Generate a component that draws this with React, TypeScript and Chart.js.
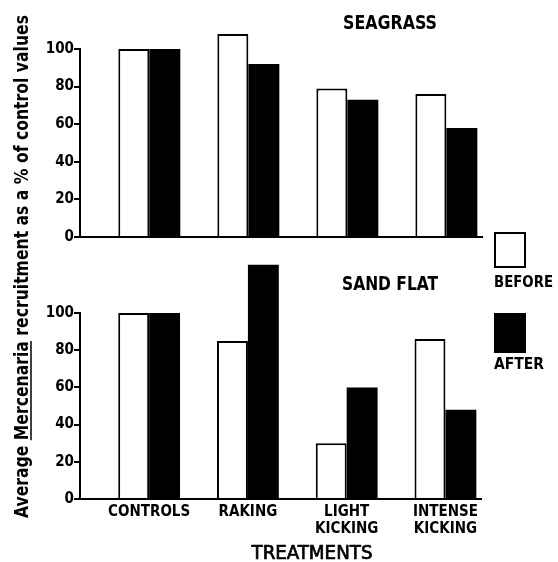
import React, { useEffect, useRef } from 'react';
import { Chart, registerables } from 'chart.js';

Chart.register(...registerables);

// ---------- data ----------
const categories: (string | string[])[] = ['CONTROLS', 'RAKING', ['LIGHT', 'KICKING'], ['INTENSE', 'KICKING']];
const seagrassBefore = [100, 108, 79, 76];
const seagrassAfter = [100, 92, 73, 58];
const sandFlatBefore = [100, 85, 30, 86];
const sandFlatAfter = [100, 126, 60, 48];
const yTickValues = [0, 20, 40, 60, 80, 100];
const seriesLabels = ['BEFORE', 'AFTER'];
const panelTitles = ['SEAGRASS', 'SAND FLAT'];
const xAxisTitle = 'TREATMENTS';
const yTitleParts = ['Average ', 'Mercenaria', ' recruitment as a % of control values'];

const FAM = "'DejaVu Sans Condensed', 'DejaVu Sans', 'Liberation Sans', sans-serif";
const W = 558;
const H = 562;

// draw text squeezed horizontally to a given width (old lettering is narrow)
function squeezedText(
  ctx: CanvasRenderingContext2D,
  text: string,
  x: number,
  y: number,
  font: string,
  width: number,
  align: 'left' | 'center',
  strokeW = 0,
) {
  ctx.save();
  ctx.font = font;
  ctx.textBaseline = 'alphabetic';
  ctx.textAlign = align;
  const m = ctx.measureText(text).width;
  ctx.translate(x, y);
  ctx.scale(width / m, 1);
  ctx.fillText(text, 0, 0);
  if (strokeW > 0) {
    ctx.lineWidth = strokeW;
    ctx.strokeStyle = '#000';
    ctx.strokeText(text, 0, 0);
  }
  ctx.restore();
}

const annotations = {
  id: 'annotations',
  afterDraw(chart: any) {
    const ctx = chart.ctx as CanvasRenderingContext2D;
    ctx.save();
    ctx.fillStyle = '#000';
    ctx.strokeStyle = '#000';
    // panel titles
    squeezedText(ctx, panelTitles[0], 390, 29, `bold 19.5px ${FAM}`, 94, 'center');
    squeezedText(ctx, panelTitles[1], 390, 290, `bold 19.5px ${FAM}`, 96, 'center');
    // x title
    squeezedText(ctx, xAxisTitle, 312, 559, `19.5px ${FAM}`, 121, 'center', 0.7);
    // legend
    const ds = chart.data.datasets;
    ctx.lineWidth = 2;
    ctx.fillStyle = ds[0].backgroundColor;
    ctx.fillRect(495, 233, 30, 34);
    ctx.strokeRect(495, 233, 30, 34);
    ctx.fillStyle = ds[1].backgroundColor;
    ctx.fillRect(494, 313, 32, 40);
    ctx.fillStyle = '#000';
    squeezedText(ctx, ds[0].label, 494, 287, `bold 16.5px ${FAM}`, 59, 'left');
    squeezedText(ctx, ds[1].label, 494, 369, `bold 16.5px ${FAM}`, 50, 'left');
    // y title, rotated and squeezed to its length in the figure
    ctx.font = `bold 20px ${FAM}`;
    ctx.textAlign = 'left';
    ctx.textBaseline = 'alphabetic';
    const widths = yTitleParts.map((p) => ctx.measureText(p).width);
    const total = widths.reduce((a, b) => a + b, 0);
    const target = 503;
    ctx.translate(28, 266.5);
    ctx.rotate(-Math.PI / 2);
    ctx.scale(target / total, 1);
    let x = -total / 2;
    yTitleParts.forEach((p, i) => {
      ctx.fillText(p, x, 0);
      if (i === 1) {
        ctx.lineWidth = 1.5;
        ctx.beginPath();
        ctx.moveTo(x, 3);
        ctx.lineTo(x + widths[i], 3);
        ctx.stroke();
      }
      x += widths[i];
    });
    ctx.restore();
  },
};

function buildChart(canvas: HTMLCanvasElement, before: number[], after: number[], bottom: boolean) {
  const tickFont = { family: FAM, size: 15, weight: 'bold' as const };
  return new Chart(canvas, {
    type: 'bar',
    data: {
      datasets: [
        {
          label: seriesLabels[0],
          data: before.map((v, i) => ({ x: i + 1, y: v })),
          backgroundColor: '#ffffff',
          borderColor: '#000000',
          borderWidth: 2,
          clip: false as any,
        },
        {
          label: seriesLabels[1],
          data: after.map((v, i) => ({ x: i + 1, y: v })),
          backgroundColor: '#000000',
          borderColor: '#000000',
          borderWidth: 0,
          clip: false as any,
        },
      ],
    },
    options: {
      responsive: false,
      animation: false,
      events: [],
      categoryPercentage: 0.626,
      barPercentage: 1,
      layout: {
        padding: bottom
          ? { top: 313, bottom: 23, left: 0, right: 77 }
          : { top: 49, bottom: 325, left: 0, right: 76 },
      },
      plugins: { legend: { display: false }, tooltip: { enabled: false }, title: { display: false } },
      scales: {
        x: {
          type: 'linear',
          offset: false,
          min: 0.3,
          max: 4.36,
          afterBuildTicks: (s: any) => {
            s.ticks = categories.map((_, i) => ({ value: i + 1 }));
          },
          afterFit: (s: any) => {
            s.height = bottom ? 40 : 0;
          },
          ticks: {
            display: bottom,
            autoSkip: false,
            maxRotation: 0,
            minRotation: 0,
            color: '#000',
            font: { ...tickFont, lineHeight: 1.17 },
            padding: -4,
            callback: (v: any) => categories[Math.round(Number(v)) - 1] ?? '',
          },
          grid: { display: false, offset: false },
          border: { display: true, color: '#000', width: 2 },
        },
        y: {
          min: 0,
          max: 100,
          afterBuildTicks: (s: any) => {
            s.ticks = yTickValues.map((v) => ({ value: v }));
          },
          afterFit: (s: any) => {
            s.width = 80;
          },
          ticks: { color: '#000', font: tickFont, padding: 0 },
          grid: { drawOnChartArea: false, drawTicks: true, tickLength: 6, color: '#000', lineWidth: 2 },
          border: { display: true, color: '#000', width: 2 },
        },
      },
    } as any,
    plugins: bottom ? [annotations] : [],
  });
}

export default function App() {
  const topRef = useRef<HTMLCanvasElement>(null);
  const botRef = useRef<HTMLCanvasElement>(null);
  useEffect(() => {
    const c1 = buildChart(topRef.current!, seagrassBefore, seagrassAfter, false);
    const c2 = buildChart(botRef.current!, sandFlatBefore, sandFlatAfter, true);
    return () => {
      c1.destroy();
      c2.destroy();
    };
  }, []);
  const cs: React.CSSProperties = { position: 'absolute', left: 0, top: 0, width: W, height: H };
  return (
    <div style={{ position: 'absolute', left: 0, top: 0, width: W, height: H, background: '#fff' }}>
      <canvas ref={topRef} width={W} height={H} style={cs} />
      <canvas ref={botRef} width={W} height={H} style={cs} />
    </div>
  );
}
